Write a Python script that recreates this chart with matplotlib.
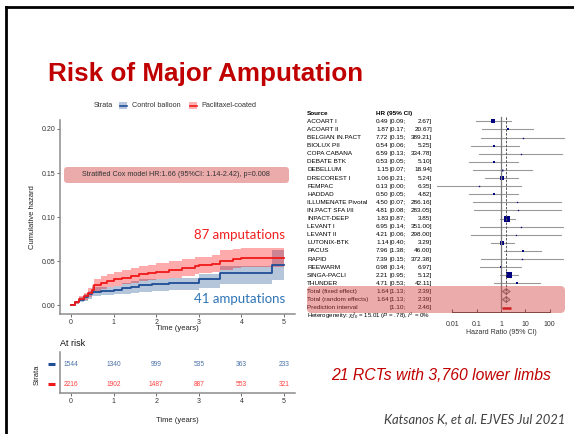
import numpy as np
import matplotlib.pyplot as plt
import matplotlib.transforms as mtrans
from matplotlib.patches import FancyBboxPatch, Rectangle, Polygon
from matplotlib.lines import Line2D

W, H = 574, 434
plt.rcParams['font.family'] = ['Liberation Sans', 'DejaVu Sans']
plt.rcParams['mathtext.fontset'] = 'custom'
plt.rcParams['mathtext.rm'] = 'Liberation Sans'
plt.rcParams['mathtext.it'] = 'Liberation Sans:italic'

# ---- cumulative hazard curves ----
t_pac = [0, 0.1, 0.2, 0.3, 0.4, 0.5, 0.55, 0.7, 0.85, 1.0, 1.2, 1.4, 1.6, 1.8, 2.0,
         2.3, 2.6, 2.9, 3.0, 3.3, 3.5, 3.8, 4.0, 5.0]
h_pac = [0, 0.003, 0.007, 0.010, 0.014, 0.017, 0.023, 0.025, 0.027, 0.029, 0.031, 0.033,
         0.035, 0.0365, 0.038, 0.040, 0.042, 0.044, 0.045, 0.0465, 0.050, 0.052, 0.053, 0.053]
lo_pac = [0, 0.001, 0.004, 0.006, 0.009, 0.012, 0.016, 0.018, 0.020, 0.022, 0.024, 0.025,
          0.027, 0.028, 0.030, 0.031, 0.033, 0.035, 0.036, 0.037, 0.040, 0.042, 0.043, 0.043]
hi_pac = [0, 0.005, 0.010, 0.014, 0.019, 0.023, 0.030, 0.033, 0.035, 0.037, 0.040, 0.042,
          0.044, 0.046, 0.048, 0.050, 0.052, 0.054, 0.055, 0.057, 0.062, 0.064, 0.065, 0.065]

t_ctl = [0, 0.1, 0.2, 0.3, 0.4, 0.5, 0.7, 1.0, 1.2, 1.4, 1.6, 1.9, 2.3, 3.0, 3.5, 4.72, 5.0]
h_ctl = [0, 0.003, 0.006, 0.009, 0.012, 0.015, 0.016, 0.017, 0.019, 0.021, 0.023, 0.024,
         0.025, 0.029, 0.036, 0.045, 0.045]
lo_ctl = [0, 0.001, 0.003, 0.005, 0.007, 0.010, 0.011, 0.012, 0.013, 0.014, 0.015, 0.016,
          0.017, 0.019, 0.024, 0.028, 0.028]
hi_ctl = [0, 0.005, 0.009, 0.013, 0.016, 0.020, 0.021, 0.022, 0.025, 0.027, 0.029, 0.030,
          0.031, 0.035, 0.044, 0.062, 0.062]

risk_times = [0, 1, 2, 3, 4, 5]
risk_ctl = [1544, 1340, 999, 535, 363, 233]
risk_pac = [2216, 1902, 1487, 887, 553, 321]

# ---- meta-analysis ----
studies = ['ACOART I', 'ACOART II', 'BELGIAN IN.PACT', 'BIOLUX PII', 'COPA CABANA',
           'DEBATE BTK', 'DEBELLUM', 'DRECOREST I', 'FEMPAC', 'HADDAD',
           'ILLUMENATE Pivotal', 'IN.PACT SFA I/II', 'INPACT-DEEP', 'LEVANT I', 'LEVANT II',
           'LUTONIX-BTK', 'PACUS', 'RAPID', 'REEWARM', 'SINGA-PACLI', 'THUNDER']
hr = [0.49, 1.87, 7.72, 0.54, 6.59, 0.53, 1.15, 1.06, 0.13, 0.50, 4.50, 4.81, 1.83, 6.95,
      4.21, 1.14, 7.96, 7.39, 0.98, 2.21, 4.71]
ci_lo = [0.09, 0.17, 0.15, 0.06, 0.13, 0.05, 0.07, 0.21, 0.00, 0.05, 0.07, 0.08, 0.87, 0.14,
         0.06, 0.40, 1.38, 0.15, 0.14, 0.95, 0.53]
ci_hi = [2.67, 20.67, 389.21, 5.25, 334.78, 5.10, 18.94, 5.24, 6.35, 4.82, 286.16, 283.05,
         3.85, 351.00, 298.00, 3.29, 46.00, 372.38, 6.97, 5.12, 42.11]
pooled_labels = ['Total (fixed effect)', 'Total (random effects)']
pooled = [(1.64, 1.13, 2.39), (1.64, 1.13, 2.39)]
pred_int = (1.10, 2.46)

red = '#F01818'
navy = '#1F4E96'
pink = '#D64545'

fig = plt.figure(figsize=(W / 100, H / 100), dpi=100)


def box(x0, y0, x1, y1):
    return [x0 / W, 1 - y1 / H, (x1 - x0) / W, (y1 - y0) / H]


def fx(x):
    return x / W


def fy(y):
    return 1 - y / H


# slide frame
fig.add_artist(Line2D([fx(6), fx(6)], [0, fy(7)], color='black', lw=2))
fig.add_artist(Line2D([fx(6), 1], [fy(7), fy(7)], color='black', lw=2))

fig.text(fx(48), fy(81), 'Risk of Major Amputation', color='#C00000', fontsize=18.7,
         fontweight='bold', va='baseline')

# ---- KM plot ----
ax = fig.add_axes(box(60.3, 120.2, 294.7, 313.8))
ax.fill_between(t_ctl, lo_ctl, hi_ctl, step='post', color='#2C5C9A', alpha=0.35, lw=0)
ax.fill_between(t_pac, lo_pac, hi_pac, step='post', color='#FF0000', alpha=0.33, lw=0)
ax.step(t_ctl, h_ctl, where='post', color=navy, lw=1.3)
ax.step(t_pac, h_pac, where='post', color=red, lw=1.3)
ax.set_xlim(-0.25, 5.25)
ax.set_ylim(-0.01, 0.21)
ax.set_yticks([0, 0.05, 0.10, 0.15, 0.20])
ax.set_yticklabels(['0.00', '0.05', '0.10', '0.15', '0.20'])
ax.set_xticks(risk_times)
for s in ['top', 'right']:
    ax.spines[s].set_visible(False)
for s in ['left', 'bottom']:
    ax.spines[s].set_color('#8c8c8c')
    ax.spines[s].set_linewidth(1.1)
ax.tick_params(labelsize=5, length=2, width=0.6, color='#555555', labelcolor='#333333', pad=1.5)

fig.text(fx(32), fy(217), 'Cumulative hazard', rotation=90, fontsize=5.5, ha='center',
         va='center', color='#222222')
fig.text(fx(177), fy(328), 'Time (years)', fontsize=5.5, ha='center', va='center', color='#222222')

# legend
fig.text(fx(94), fy(105.5), 'Strata', fontsize=5.2, va='center', color='#333333')
fig.add_artist(Rectangle((fx(119.3), fy(108.5)), 8 / W, 6 / H, color='#B5C6DC', lw=0))
fig.add_artist(Line2D([fx(120), fx(126.6)], [fy(105.5)] * 2, color=navy, lw=1.2))
fig.text(fx(132.3), fy(105.5), 'Control balloon', fontsize=5.2, va='center', color='#333333')
fig.add_artist(Rectangle((fx(189.3), fy(108.5)), 8 / W, 6 / H, color='#FFB0B0', lw=0))
fig.add_artist(Line2D([fx(190), fx(196.6)], [fy(105.5)] * 2, color=red, lw=1.2))
fig.text(fx(201.7), fy(105.5), 'Paclitaxel-coated', fontsize=5.2, va='center', color='#333333')

# Cox box
fig.add_artist(FancyBboxPatch((fx(64), fy(183)), 225 / W, 16 / H,
                              boxstyle='round,pad=0,rounding_size=0.006',
                              facecolor=pink, alpha=0.45, lw=0, mutation_aspect=W / H))
fig.text(fx(176), fy(175), 'Stratified Cox model HR:1.66 (95%CI: 1.14-2.42), p=0.008',
         fontsize=5.2, ha='center', va='center', color='#333333')

fig.text(fx(285), fy(235), '87 amputations', fontsize=9.5, ha='right', va='center',
         color='#F02020', family=['Lato', 'DejaVu Sans'])
fig.text(fx(285), fy(299), '41 amputations', fontsize=9.5, ha='right', va='center',
         color='#2E75B6', family=['Lato', 'DejaVu Sans'])

# ---- risk table ----
fig.text(fx(60), fy(344), 'At risk', fontsize=6.5, va='center', color='#111111')
at = fig.add_axes(box(60.3, 352, 294.7, 393))
at.set_xlim(-0.25, 5.25)
at.set_ylim(-0.45, 1.6)
for t, n in zip(risk_times, risk_ctl):
    at.text(t, 1, str(n), fontsize=4.8, ha='center', va='center', color='#4A72A8')
for t, n in zip(risk_times, risk_pac):
    at.text(t, 0, str(n), fontsize=4.8, ha='center', va='center', color='#FF4040')
at.plot([-0.53, -0.38], [1, 1], color=navy, lw=2.2, clip_on=False, solid_capstyle='butt')
at.plot([-0.53, -0.38], [0, 0], color=red, lw=2.2, clip_on=False, solid_capstyle='butt')
at.set_yticks([])
at.set_xticks(risk_times)
for s in ['top', 'right']:
    at.spines[s].set_visible(False)
for s in ['left', 'bottom']:
    at.spines[s].set_color('#8c8c8c')
    at.spines[s].set_linewidth(1.1)
at.tick_params(labelsize=5, length=2, width=0.6, color='#555555', labelcolor='#333333', pad=1.5)
fig.text(fx(37), fy(375), 'Strata', rotation=90, fontsize=5.5, ha='center', va='center',
         color='#222222')
fig.text(fx(177), fy(420), 'Time (years)', fontsize=5.5, ha='center', va='center', color='#222222')

# ---- forest plot ----
af = fig.add_axes(box(437, 109, 566, 312.3))
af.set_xscale('log')
xmin, xmax = 10 ** -2.634, 10 ** 2.675
af.set_xlim(xmin, xmax)
af.set_ylim(24.57, -0.53)
rows = np.arange(1, len(studies) + 1)
w = 1 / (np.log(np.array(ci_hi) / np.array(hr)) / 1.96) ** 2
for r, h, l, u, wi in zip(rows, hr, ci_lo, ci_hi, w):
    af.plot([max(l, xmin), min(u, xmax)], [r, r], color='#9a9a9a', lw=0.8)
    af.plot(h, r, marker='s', color='#000080', ms=2.65 * np.sqrt(wi) * 0.72, mew=0)
af.plot([1, 1], [0.45, 24.0], color='#7a7a7a', lw=0.9)
af.plot([1.64, 1.64], [0.45, 23.5], color='#555555', lw=0.7, ls=(0, (2.5, 1.5)))
for k, (h, l, u) in enumerate(pooled):
    r = 22 + k
    af.add_patch(Polygon([(l, r), (h, r - 0.35), (u, r), (h, r + 0.35)], closed=True,
                         facecolor='#C8C8C8', edgecolor='#6a6a6a', lw=0.6))
af.plot(pred_int, [24, 24], color='#CC0000', lw=1.8, solid_capstyle='butt')
af.set_yticks([])
for s in ['top', 'right', 'left']:
    af.spines[s].set_visible(False)
af.spines['bottom'].set_bounds(0.01, 100)
af.spines['bottom'].set_linewidth(0.7)
af.spines['bottom'].set_color('#444444')
af.set_xticks([0.01, 0.1, 1, 10, 100])
af.set_xticklabels(['0.01', '0.1', '1', '10', '100'])
af.minorticks_off()
af.tick_params(axis='x', direction='in', length=2.5, width=0.6, labelsize=5, pad=6,
               colors='#333333')
af.patch.set_visible(False)
fig.text(fx(501), fy(332.5), 'Hazard Ratio (95% CI)', fontsize=5, ha='center', va='center',
         color='#333333')

tr = mtrans.blended_transform_factory(fig.transFigure, af.transData)
fs = 4.6
xs, xh, xb, xu = fx(307), fx(376), fx(390), fx(432)
af.text(xs, 0, 'Source', transform=tr, fontsize=fs, fontweight='bold', va='center')
af.text(xh, 0, 'HR (95% CI)', transform=tr, fontsize=fs, fontweight='bold', va='center')
for r, name, h, l, u in zip(rows, studies, hr, ci_lo, ci_hi):
    af.text(xs, r, name, transform=tr, fontsize=fs, va='center')
    af.text(xh, r, f'{h:.2f}', transform=tr, fontsize=fs, va='center')
    af.text(xb, r, f'[{l:.2f};', transform=tr, fontsize=fs, va='center')
    af.text(xu, r, f'{u:.2f}]', transform=tr, fontsize=fs, va='center', ha='right')
for k, (lab, (h, l, u)) in enumerate(zip(pooled_labels, pooled)):
    r = 22 + k
    af.text(xs, r, lab, transform=tr, fontsize=fs, va='center')
    af.text(xh, r, f'{h:.2f}', transform=tr, fontsize=fs, va='center')
    af.text(xb, r, f'[{l:.2f};', transform=tr, fontsize=fs, va='center')
    af.text(xu, r, f'{u:.2f}]', transform=tr, fontsize=fs, va='center', ha='right')
af.text(xs, 24, 'Prediction interval', transform=tr, fontsize=fs, va='center')
af.text(xb, 24, f'[{pred_int[0]:.2f};', transform=tr, fontsize=fs, va='center')
af.text(xu, 24, f'{pred_int[1]:.2f}]', transform=tr, fontsize=fs, va='center', ha='right')
af.text(xs, 25, r'Heterogeneity: $\chi^2_{20}$ = 15.01 ($P$ = .78), $I^2$ = 0%',
        transform=tr, fontsize=4.4, va='center', clip_on=False)

fig.add_artist(FancyBboxPatch((fx(307), fy(313)), 258 / W, 27 / H,
                              boxstyle='round,pad=0,rounding_size=0.008',
                              facecolor=pink, alpha=0.45, lw=0, mutation_aspect=W / H,
                              zorder=5))

fig.text(fx(441.5), fy(375), '21 RCTs with 3,760 lower limbs', fontsize=11.3, style='italic',
         ha='center', va='center', color='#C00000')
fig.text(fx(565), fy(419), 'Katsanos K, et al. EJVES Jul 2021', fontsize=9.4, style='italic',
         ha='right', va='center', color='#404040', family=['Lato', 'DejaVu Sans'])

fig.savefig('out.png', dpi=100)
